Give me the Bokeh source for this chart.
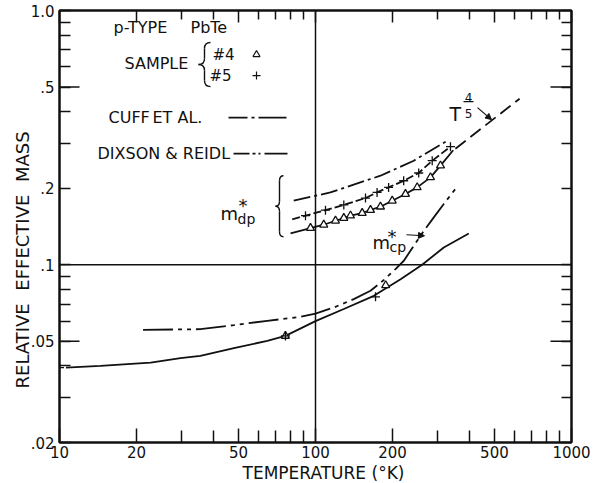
import math
from bokeh.plotting import figure
from bokeh.models import (Range1d, LogAxis, FixedTicker, Label, Span, Arrow, Title,
                          NormalHead, CustomJSTickFormatter)
from bokeh.embed import file_html
from bokeh.resources import INLINE

# ---------------- data ----------------
# Cuff et al. (m*_dp), dash-dot curve
cuff_T = [82.2, 114.4, 179.4, 242, 324]
cuff_m = [0.1786, 0.1926, 0.224, 0.2566, 0.3058]

# Sample #5 (+), m*_dp
s5_dp_T = [91.4, 109.4, 129, 156.8, 174, 193, 221, 253, 285.7, 336.7]
s5_dp_m = [0.156, 0.164, 0.172, 0.183, 0.1926, 0.2015, 0.214, 0.2296, 0.2566, 0.2915]
s5_line_T = [81.1, 91.4, 109.4, 129, 156.8, 174, 193, 221, 253, 285.7, 336.7]
s5_line_m = [0.151, 0.156, 0.164, 0.172, 0.183, 0.1926, 0.2015, 0.214, 0.2296, 0.2566, 0.2915]

# Sample #4 (triangles), m*_dp
s4_dp_T = [95.6, 107.7, 119.7, 129, 137, 152.2, 164, 179.4, 199.4, 224.6, 249.6, 281.3, 307.8]
s4_dp_m = [0.1395, 0.1437, 0.149, 0.1527, 0.156, 0.1598, 0.1642, 0.1692, 0.1786, 0.1898, 0.2015, 0.2207, 0.2454]
s4_line_T = [79.9, 95.6, 107.7, 119.7, 129, 137, 152.2, 164, 179.4, 199.4, 224.6, 249.6, 281.3, 307.8, 345]
s4_line_m = [0.1328, 0.1395, 0.1437, 0.149, 0.1527, 0.156, 0.1598, 0.1642, 0.1692, 0.1786, 0.1898, 0.2015, 0.2207, 0.2454, 0.282]

# T^(4/5) extrapolation
t45_T = [352, 627]
t45_m = [0.286, 0.450]

# Dixson & Reidl (m*_cp), dash-dot-dot curve
dix_T = [21.2, 35.5, 48, 64.8, 87.4, 100, 117.9, 141.1, 164, 184.9, 205.3, 221.3, 242, 265, 289.8, 317, 357.7]
dix_m = [0.0555, 0.0558, 0.0579, 0.0602, 0.0624, 0.0643, 0.0679, 0.0733, 0.079, 0.0871, 0.0962, 0.1037,
         0.1188, 0.136, 0.1536, 0.1734, 0.2028]

# Samples, m*_cp (solid curve)
low_T = [10.6, 14.45, 22.7, 29.7, 35.5, 48, 64.8, 76.3, 100, 129, 169, 215, 261, 317, 397]
low_m = [0.0394, 0.0400, 0.0412, 0.0429, 0.0438, 0.047, 0.0502, 0.0525, 0.060, 0.067, 0.0755, 0.0878,
         0.1, 0.117, 0.1328]
low_s5_T = [10, 76.3, 171.6]
low_s5_m = [0.0394, 0.0525, 0.0748]
low_s4_T = [76.3, 188]
low_s4_m = [0.0525, 0.083]

# axes
x_major = [10, 20, 50, 100, 200, 500, 1000]
x_labels = ["10", "20", "50", "100", "200", "500", "1000"]
x_minor = [30, 40, 60, 70, 80, 90, 300, 400, 600, 700, 800, 900]
y_major = [0.02, 0.05, 0.1, 0.2, 0.5, 1.0]
y_labels = [".02", ".05", ".1", ".2", ".5", "1.0"]
y_minor = [0.03, 0.04, 0.06, 0.07, 0.08, 0.09, 0.3, 0.4, 0.6, 0.7, 0.8, 0.9]
y_long = [0.05, 0.5]

FONT = "DejaVu Sans"
INK = "#111111"


# helpers: reference image pixel -> data coordinates (for annotations only)
def px_x(px):
    return 10 ** (1 + (px - 59) / 256.0)


def px_y(py):
    return 10 ** (-(py - 10) / 254.0)


p = figure(width=597, height=483, x_axis_type="log", y_axis_type="log",
           x_range=Range1d(10, 1000), y_range=Range1d(0.02, 1.0),
           output_backend="svg", toolbar_location=None,
           min_border_left=59, min_border_right=26, min_border_top=10, min_border_bottom=41)
p.xgrid.visible = False
p.ygrid.visible = False
p.outline_line_color = INK
p.outline_line_width = 2
p.background_fill_color = "white"
p.border_fill_color = "white"

xfmt = CustomJSTickFormatter(args=dict(vals=x_major, labs=x_labels), code="""
for (let i = 0; i < vals.length; i++) {
  if (Math.abs(Math.log10(tick) - Math.log10(vals[i])) < 1e-6) return labs[i];
}
return '';
""")
yfmt = CustomJSTickFormatter(args=dict(vals=y_major, labs=y_labels), code="""
for (let i = 0; i < vals.length; i++) {
  if (Math.abs(Math.log10(tick) - Math.log10(vals[i])) < 1e-6) return labs[i];
}
return '';
""")
blank = CustomJSTickFormatter(code="return '';")


def style(ax, ticks, minor, fmt, maj_in, min_in, labels=True):
    ax.ticker = FixedTicker(ticks=ticks, minor_ticks=minor)
    ax.formatter = fmt
    ax.axis_line_color = INK
    ax.axis_line_width = 2
    ax.major_tick_in = maj_in
    ax.major_tick_out = 0
    ax.minor_tick_in = min_in
    ax.minor_tick_out = 0
    ax.major_tick_line_color = INK
    ax.minor_tick_line_color = INK
    ax.major_tick_line_width = 1.5
    ax.minor_tick_line_width = 1.5
    ax.major_label_text_font = FONT
    ax.major_label_text_color = INK
    ax.axis_label = None
    if labels:
        ax.major_label_text_font_size = "15px"
    else:
        ax.major_label_text_font_size = "0px"
        ax.major_label_standoff = 0


style(p.xaxis[0], x_major, x_minor, xfmt, 14, 12)
p.xaxis[0].major_label_standoff = 3
style(p.yaxis[0], y_major, y_minor, yfmt, 11, 11)
p.yaxis[0].major_label_standoff = 5

top = LogAxis()
style(top, x_major, x_minor, blank, 12, 9, labels=False)
p.add_layout(top, "above")
right = LogAxis()
style(right, y_major, y_minor, blank, 10, 10, labels=False)
p.add_layout(right, "right")

# axis titles (placed as side titles so they are not clipped)
p.add_layout(Title(text="RELATIVE\u2002\u2009EFFECTIVE\u2002\u2009MASS", text_font=FONT,
                   text_font_size="18px", text_font_style="normal", text_color=INK,
                   align="left", offset=54, standoff=-10), "left")
p.add_layout(Title(text="TEMPERATURE (°K)", text_font=FONT, text_font_size="17px",
                   text_font_style="normal", text_color=INK, align="left", offset=183, standoff=0), "below")

# long ticks at .05 and .5 (left and right)
p.segment(x0=[10] * len(y_long), y0=y_long, x1=[px_x(59 + 20)] * len(y_long), y1=y_long,
          line_color=INK, line_width=1.5)
p.segment(x0=[1000] * len(y_long), y0=y_long, x1=[px_x(571 - 21)] * len(y_long), y1=y_long,
          line_color=INK, line_width=1.5)

# reference lines at T=100 K and m=0.1
p.add_layout(Span(location=100, dimension="height", line_color=INK, line_width=1.5))
p.add_layout(Span(location=0.1, dimension="width", line_color=INK, line_width=1.5))

LW = 1.8
# curves
p.line(cuff_T, cuff_m, line_color=INK, line_width=LW, line_dash="17 4 3 4")
p.line(s5_line_T, s5_line_m, line_color=INK, line_width=LW, line_dash="8 3")
p.line(s4_line_T, s4_line_m, line_color=INK, line_width=LW)
p.line(t45_T, t45_m, line_color=INK, line_width=LW, line_dash="13 6")
p.line(dix_T, dix_m, line_color=INK, line_width=LW, line_dash="30 5 4 5 4 5")
p.line(low_T, low_m, line_color=INK, line_width=LW)

# markers
p.scatter(s5_dp_T, s5_dp_m, marker="cross", size=9, line_color=INK, line_width=1.3)
p.scatter(s4_dp_T, s4_dp_m, marker="triangle", size=8, line_color=INK, fill_color="white", line_width=1.3)
p.scatter(low_s4_T, low_s4_m, marker="triangle", size=8, line_color=INK, fill_color="white", line_width=1.3)
p.scatter(low_s5_T, low_s5_m, marker="cross", size=9, line_color=INK, line_width=1.3)


# ---------------- annotations ----------------
def lab(text, px, py, size, align="left", baseline="middle"):
    p.add_layout(Label(x=px_x(px), y=px_y(py), text=text, text_font=FONT,
                       text_font_size=f"{size}px", text_color=INK, text_align=align,
                       text_baseline=baseline))


lab("p-TYPE", 113, 27, 16)
lab("PbTe", 190, 27, 16)
lab("SAMPLE", 124, 63, 16)
lab("#4", 212, 54, 15)
lab("#5", 209, 75, 15)
lab("CUFF", 108, 117, 16)
lab("ET", 152, 117, 16)
lab("AL.", 177, 117, 16)
lab("DIXSON & REIDL", 97, 153, 16)

# legend samples
p.scatter([px_x(256)], [px_y(54)], marker="triangle", size=7, line_color=INK, fill_color="white", line_width=1.2)
p.scatter([px_x(256)], [px_y(75)], marker="cross", size=8, line_color=INK, line_width=1.2)
p.line([px_x(228), px_x(286)], [px_y(117)] * 2, line_color=INK, line_width=LW, line_dash="19 4 3 4 30 0")
p.line([px_x(233), px_x(287)], [px_y(153)] * 2, line_color=INK, line_width=LW, line_dash="16 3 3 3 2 4 25 0")


def brace(L, R, T, B, r):
    xs = (L + R) / 2.0
    M = (T + B) / 2.0
    qx0 = [R, xs, L, xs]
    qy0 = [T, M - r, M, B - r]
    qx1 = [xs, L, xs, R]
    qy1 = [T + r, M, M + r, B]
    cx = [xs, xs, xs, xs]
    cy = [T, M, M, B]
    p.quadratic(x0=[px_x(v) for v in qx0], y0=[px_y(v) for v in qy0],
                x1=[px_x(v) for v in qx1], y1=[px_y(v) for v in qy1],
                cx=[px_x(v) for v in cx], cy=[px_y(v) for v in cy],
                line_color=INK, line_width=1.4)
    p.segment(x0=[px_x(xs)] * 2, y0=[px_y(T + r), px_y(M + r)],
              x1=[px_x(xs)] * 2, y1=[px_y(M - r), px_y(B - r)],
              line_color=INK, line_width=1.4)


brace(198, 210, 42, 86, 6)
brace(275, 283, 175, 236, 5)

# m*_dp
lab("m", 220, 213, 18, baseline="alphabetic")
lab("*", 238, 205, 18, baseline="alphabetic")
lab("dp", 237, 218, 14, baseline="alphabetic")
# m*_cp
lab("m", 372, 242, 18, baseline="alphabetic")
lab("*", 387, 236, 18, baseline="alphabetic")
lab("cp", 389, 246, 14, baseline="alphabetic")
p.add_layout(Arrow(end=NormalHead(size=6, fill_color=INK, line_color=INK),
                   x_start=px_x(406), y_start=px_y(234), x_end=px_x(424), y_end=px_y(235),
                   line_color=INK, line_width=1.2))
# T^(4/5)
lab("T", 449, 113, 19, baseline="alphabetic")
lab("4", 468, 97, 12, align="center", baseline="alphabetic")
lab("5", 468, 113, 12, align="center", baseline="alphabetic")
p.segment(x0=[px_x(463)], y0=[px_y(101)], x1=[px_x(473)], y1=[px_y(101)], line_color=INK, line_width=1.3)
p.add_layout(Arrow(end=NormalHead(size=6, fill_color=INK, line_color=INK),
                   x_start=px_x(477), y_start=px_y(107), x_end=px_x(491), y_end=px_y(119),
                   line_color=INK, line_width=1.2))

open("out.html", "w").write(file_html(p, INLINE))
